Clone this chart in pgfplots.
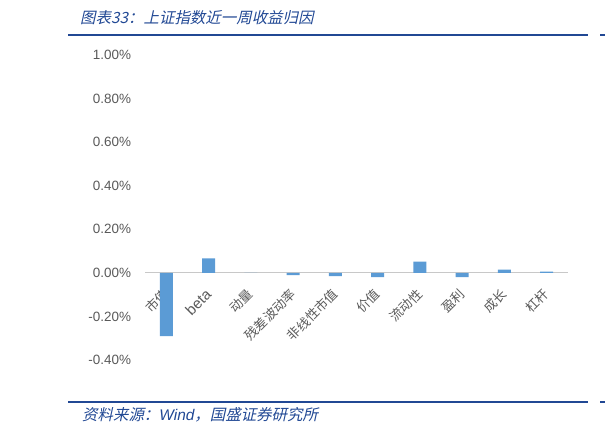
\documentclass[border=0pt]{standalone}
\usepackage{pgfplots}
\pgfplotsset{compat=1.18}
\usepackage{fontspec}
\setmainfont{Liberation Sans}
\newfontfamily\cjk{Noto Sans CJK SC}
\newfontfamily\cjkit[FakeSlant=0.22]{Noto Sans CJK SC}
\definecolor{barblue}{RGB}{91,155,213}
\definecolor{hdrblue}{RGB}{33,72,148}
\definecolor{txtgray}{RGB}{89,89,89}
\definecolor{zerogray}{RGB}{200,200,200}
\begin{document}
\begin{tikzpicture}[x=1bp,y=1bp]
\path[use as bounding box] (0,0) rectangle (605,435);
\fill[hdrblue] (68,399) rectangle (588,401);
\fill[hdrblue] (600,399) rectangle (605,401);
\fill[hdrblue] (68,32) rectangle (588,34);
\fill[hdrblue] (600,32) rectangle (605,34);
\node[anchor=west, inner sep=0, text=hdrblue, font=\cjkit\fontsize{15.5}{17}\selectfont] at (80,417) {图表33：上证指数近一周收益归因};
\node[anchor=west, inner sep=0, text=hdrblue, font=\fontsize{15.5}{17}\selectfont] at (82,20) {{\cjkit 资料来源：}{\itshape Wind}{\cjkit ，国盛证券研究所}};
\begin{axis}[
  at={(145.2bp,75bp)}, anchor=south west,
  scale only axis, width=422.6bp, height=305bp,
  xmin=-0.5, xmax=9.5, ymin=-0.4, ymax=1.0,
  axis x line*=middle, axis y line*=left,
  x axis line style={draw=zerogray, line width=0.8pt},
  y axis line style={draw=none},
  major tick length=0pt,
  xtick={0,...,9},
  xticklabels={市值,{\rmfamily\fontsize{15}{16}\selectfont beta},动量,残差波动率,非线性市值,价值,流动性,盈利,成长,杠杆},
  xticklabel style={rotate=45, anchor=east, text=txtgray, font=\cjk\fontsize{13}{14}\selectfont, inner sep=0pt},
  xticklabel shift=19bp,
  ytick={-0.4,-0.2,0,0.2,0.4,0.6,0.8,1.0},
  yticklabel={\pgfmathprintnumber[fixed,fixed zerofill,precision=2]{\tick}\%},
  yticklabel style={text=txtgray, font=\fontsize{13.5}{15}\selectfont, anchor=east, inner sep=0pt},
  yticklabel shift=14bp,
  /pgf/number format/assume math mode=true,
  ybar, bar width=13bp, bar shift=0pt,
]
\addplot[fill=barblue, draw=none] coordinates {
(0,-0.291) (1,0.066) (2,0.0) (3,-0.011) (4,-0.015) (5,-0.020) (6,0.052) (7,-0.020) (8,0.015) (9,0.006)
};
\end{axis}
\end{tikzpicture}
\end{document}
